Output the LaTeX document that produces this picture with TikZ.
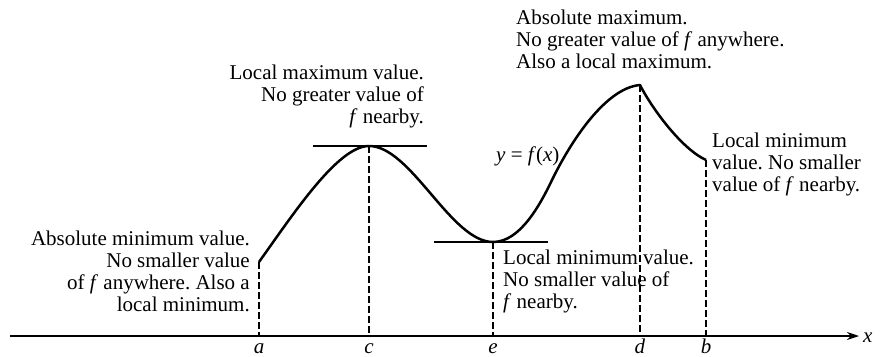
\documentclass[tikz,border=0pt]{standalone}
\usepackage{fontspec}
\setmainfont{Liberation Serif}
\usetikzlibrary{arrows.meta}
\frenchspacing
\begin{document}
\begin{tikzpicture}[x=1pt,y=-1pt,
  curve/.style={line width=2.5pt, line join=round},
  guide/.style={line width=1.2pt, dash pattern=on 7pt off 3pt},
  tangent/.style={line width=1.8pt},
  axisline/.style={line width=1.6pt,-{Stealth[length=12pt,width=8pt]}},
  lbl/.style={inner sep=0pt, font=\fontsize{21}{22}\selectfont},
  ticklbl/.style={lbl, anchor=base, text depth=0pt},
]
\useasboundingbox (0,0) rectangle (883,356);
% points on the curve
\coordinate (A) at (259,262);
\coordinate (C) at (369,146);
\coordinate (E) at (493,242);
\coordinate (I) at (552,180);
\coordinate (D) at (640,85);
\coordinate (B) at (706,160);
% feet on the axis
\coordinate (Aa) at (259,336);
\coordinate (Ca) at (369,336);
\coordinate (Ea) at (493,336);
\coordinate (Da) at (640,336);
\coordinate (Ba) at (706,336);
\coordinate (O) at (10,336);
\coordinate (X) at (859,336);
% tangent ends
\coordinate (T1) at (313,146);
\coordinate (T2) at (427,146);
\coordinate (T3) at (434,242);
\coordinate (T4) at (548,242);

\draw[axisline] (O) -- (X);
\node[lbl, anchor=base west] (xl) at (863,342) {\textit{x}};

\draw[guide] (A) -- (Aa);
\draw[guide] (C) -- (Ca);
\draw[guide] (E) -- (Ea);
\draw[guide] (D) -- (Da);
\draw[guide] (B) -- (Ba);

\draw[tangent] (T1) -- (T2);
\draw[tangent] (T3) -- (T4);

\draw[curve] (A) .. controls (294,213) and (338,146) .. (C)
  .. controls (411,146) and (451,242) .. (E)
  .. controls (520,242) and (540,205) .. (I)
  .. controls (570,143) and (605,88) .. (D)
  .. controls (650,105) and (680,148) .. (B);

\node[ticklbl] (la) at (259,353) {\textit{a}};
\node[ticklbl] (lc) at (369,353) {\textit{c}};
\node[ticklbl] (le) at (493,353) {\textit{e}};
\node[ticklbl] (ld) at (640,353) {\textit{d}};
\node[ticklbl] (lb) at (706,353) {\textit{b}};

\node[lbl, anchor=north east, align=right] (absmin) at (250,231)
  {Absolute minimum value.\\No smaller value\\of \textit{f} anywhere. Also a\\local minimum.};
\node[lbl, anchor=north east, align=right] (locmax) at (424,65)
  {Local maximum value.\\No greater value of\\\textit{f} nearby.};
\node[lbl, anchor=north west, align=left] (absmax) at (516,10)
  {Absolute maximum.\\No greater value of \textit{f} anywhere.\\Also a local maximum.};
\node[lbl, anchor=north west, align=left] (endmin) at (712,133)
  {Local minimum\\value. No smaller\\value of \textit{f} nearby.};
\node[lbl, anchor=north west, align=left] (locmin) at (503,250)
  {Local minimum value.\\No smaller value of\\\textit{f} nearby.};
\node[lbl, anchor=base west] (fx) at (496,161) {\textit{y} = \textit{f}(\textit{x})};
\end{tikzpicture}
\end{document}
